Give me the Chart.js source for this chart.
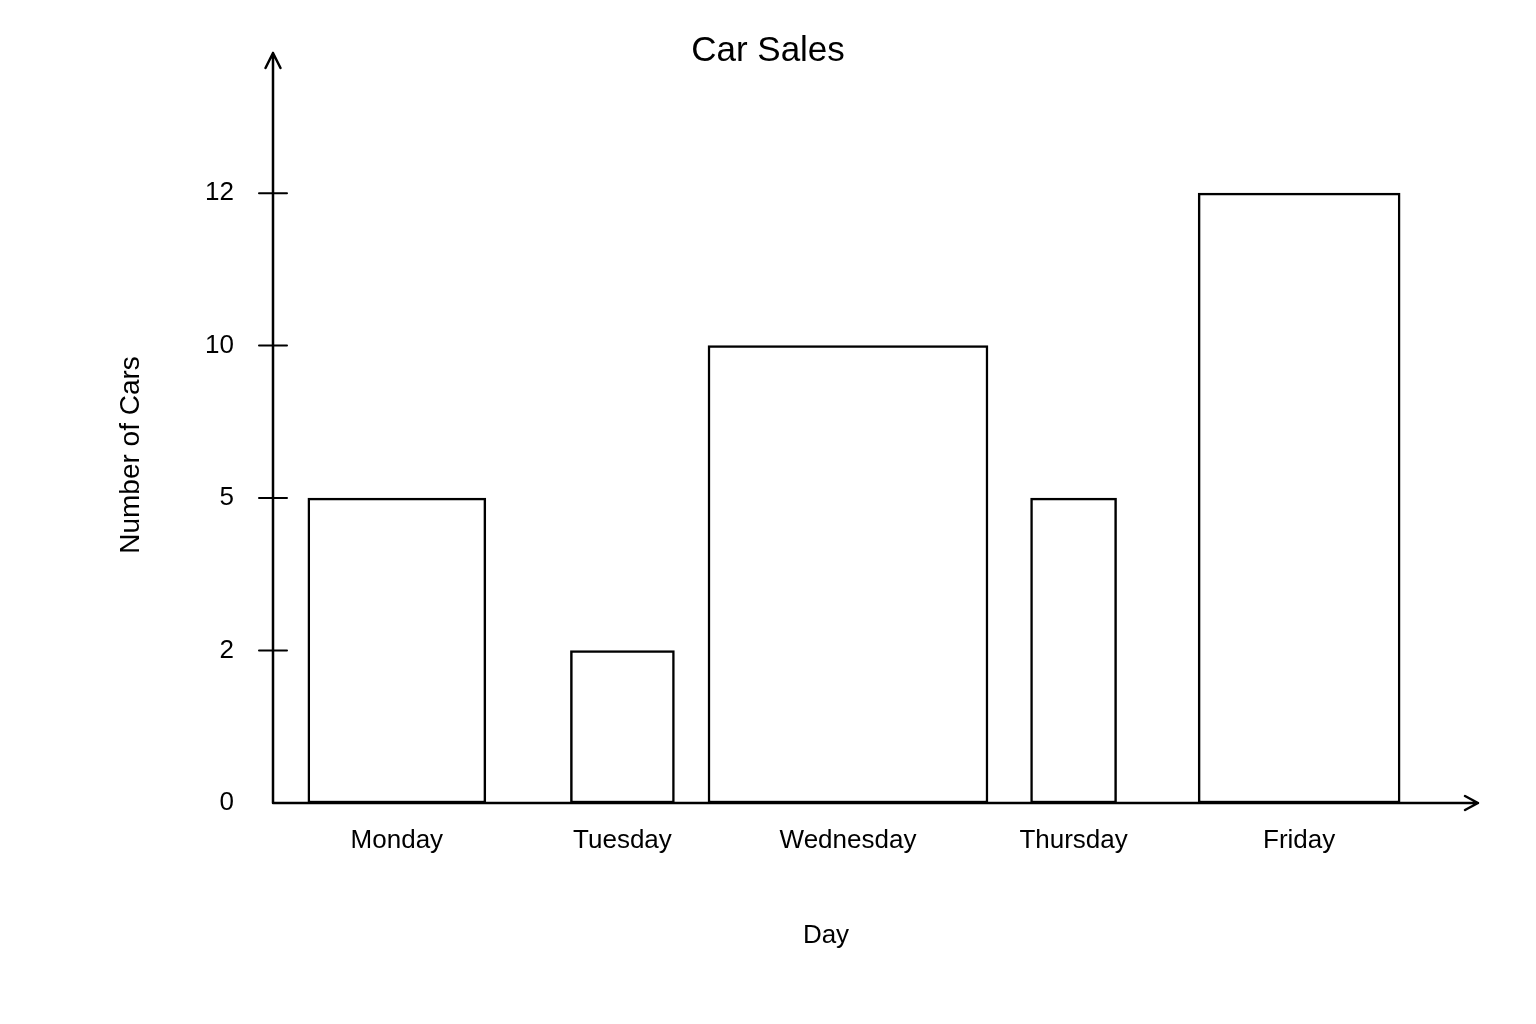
<!DOCTYPE html>
<html>
<head>
<meta charset="utf-8">
<script src="https://cdn.jsdelivr.net/npm/chart.js@4/dist/chart.umd.min.js"></script>
<style>
  html, body { margin: 0; padding: 0; background: #ffffff; }
  #wrap { width: 1536px; height: 1024px; }
</style>
</head>
<body>
<div id="wrap"><canvas id="c"></canvas></div>
<script>
// ---- data ----
const days = ["Monday", "Tuesday", "Wednesday", "Thursday", "Friday"];
const cars = [5, 2, 10, 5, 12];
const yTicks = [0, 2, 5, 10, 12];
const chartTitle = "Car Sales";
const xTitle = "Day";
const yTitle = "Number of Cars";

// ---- style ----
const barWidthsPx = [178, 104, 280, 86, 202];
const FONT = "'Liberation Sans', Arial, Helvetica, sans-serif";
const LINE_W = 2.5;

// Scale that spaces the labelled ticks evenly (as in the hand-drawn original)
class TickSpacedScale extends Chart.LinearScale {
  _pos(v) {
    const b = this.options.breaks, n = b.length - 1;
    if (v <= b[0]) return (v - b[0]) / (b[1] - b[0]);
    if (v >= b[n]) return n + (v - b[n]) / (b[n] - b[n - 1]);
    for (let i = 0; i < n; i++) {
      if (v <= b[i + 1]) return i + (v - b[i]) / (b[i + 1] - b[i]);
    }
    return n;
  }
  _val(p) {
    const b = this.options.breaks, n = b.length - 1;
    if (p <= 0) return b[0] + p * (b[1] - b[0]);
    if (p >= n) return b[n] + (p - n) * (b[n] - b[n - 1]);
    const i = Math.floor(p);
    return b[i] + (p - i) * (b[i + 1] - b[i]);
  }
  getPixelForValue(value) {
    const total = this._pos(this.max) - this._pos(this.min);
    return this.getPixelForDecimal((this._pos(value) - this._pos(this.min)) / total);
  }
  getValueForPixel(pixel) {
    const total = this._pos(this.max) - this._pos(this.min);
    return this._val(this._pos(this.min) + this.getDecimalForPixel(pixel) * total);
  }
}
TickSpacedScale.id = 'tickspaced';
TickSpacedScale.defaults = Chart.LinearScale.defaults;
Chart.register(TickSpacedScale);

Chart.defaults.color = '#000000';
Chart.defaults.font.family = FONT;

const axesPlugin = {
  id: 'sketchAxes',
  afterDatasetsDraw(chart) {
    const {ctx, chartArea} = chart;
    const ys = chart.scales.y;
    const x0 = chartArea.left;
    const y0 = ys.getPixelForValue(0);
    const yTop = chartArea.top - 54;
    const xEnd = chartArea.right + 99;
    ctx.save();
    ctx.strokeStyle = '#000';
    ctx.lineWidth = LINE_W;
    ctx.lineCap = 'round';
    ctx.lineJoin = 'round';
    ctx.beginPath();
    // y axis
    ctx.moveTo(x0, y0); ctx.lineTo(x0, yTop);
    ctx.moveTo(x0 - 7.5, yTop + 15); ctx.lineTo(x0, yTop); ctx.lineTo(x0 + 7.5, yTop + 15);
    // x axis
    ctx.moveTo(x0, y0); ctx.lineTo(xEnd, y0);
    ctx.moveTo(xEnd - 13, y0 - 7); ctx.lineTo(xEnd, y0); ctx.lineTo(xEnd - 13, y0 + 7);
    ctx.stroke();
    // tick crosses
    ctx.lineWidth = 2;
    ctx.beginPath();
    yTicks.forEach(v => {
      if (v === 0) return;
      const p = ys.getPixelForValue(v);
      ctx.moveTo(x0 - 14, p); ctx.lineTo(x0 + 14, p);
    });
    ctx.stroke();
    ctx.restore();
  }
};

const datasets = days.map((d, i) => ({
  label: d,
  data: [{x: i, y: cars[i]}],
  stack: 'all',
  barThickness: barWidthsPx[i],
  backgroundColor: '#ffffff',
  borderColor: '#000000',
  borderWidth: LINE_W,
  borderSkipped: false,
  clip: false
}));

new Chart(document.getElementById('c'), {
  type: 'bar',
  data: { datasets },
  plugins: [axesPlugin],
  options: {
    responsive: true,
    maintainAspectRatio: false,
    animation: false,
    events: [],
    layout: { padding: { left: 157, right: 157, top: 0, bottom: 0 } },
    plugins: {
      legend: { display: false },
      tooltip: { enabled: false },
      title: {
        display: true,
        text: chartTitle,
        color: '#000',
        font: { size: 35, weight: 'normal', family: FONT },
        padding: { top: 30, bottom: 35 }
      }
    },
    scales: {
      x: {
        type: 'linear',
        offset: false,
        min: -0.549,
        max: 4.354,
        grid: { display: false, drawTicks: false },
        border: { display: false },
        afterBuildTicks: (s) => { s.ticks = days.map((_, i) => ({ value: i })); },
        afterFit: (s) => { s.height = 221; },
        ticks: {
          autoSkip: false,
          maxRotation: 0,
          padding: 22.4,
          color: '#000',
          font: { size: 26, family: FONT },
          callback: (v) => days[v]
        },
        title: {
          display: true,
          text: xTitle,
          color: '#000',
          font: { size: 26, family: FONT },
          padding: { top: 0, bottom: 72.4 }
        }
      },
      y: {
        type: 'tickspaced',
        breaks: yTicks,
        min: 0,
        max: 13.13,
        stacked: false,
        grid: { display: false, drawTicks: false },
        border: { display: false },
        afterBuildTicks: (s) => { s.ticks = yTicks.map(v => ({ value: v })); },
        afterFit: (s) => { s.width = 116; },
        ticks: {
          padding: 39,
          color: '#000',
          font: { size: 26, family: FONT }
        },
        title: {
          display: true,
          text: yTitle,
          color: '#000',
          font: { size: 28, family: FONT },
          padding: { top: -43, bottom: 0 }
        }
      }
    }
  }
});
</script>
</body>
</html>
